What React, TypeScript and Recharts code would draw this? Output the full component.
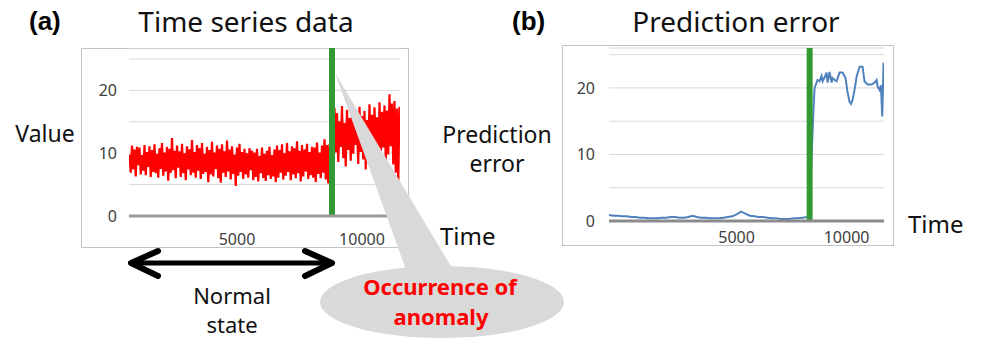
import { LineChart, Line, XAxis, YAxis, CartesianGrid, ReferenceLine } from "recharts"

// (a) time series, sampled every 50 steps from t=700
const seriesStart = 700
const seriesStep = 50
const anomalyAt = 8800

const normalValues = [
  9.8, 6.9, 11.2, 7.4, 10.6, 6.3, 11.0, 8.1, 10.9, 6.6, 9.7, 7.2, 11.3, 6.5, 10.2, 7.8, 11.1, 6.2,
  10.5, 7.0, 11.4, 6.8, 9.9, 6.1, 10.8, 7.5, 11.6, 6.4, 10.1, 7.1, 11.0, 5.6, 10.7, 6.9, 12.4, 7.3,
  10.4, 6.0, 11.2, 7.7, 10.3, 6.2, 11.5, 6.8, 10.0, 5.7, 11.1, 7.4, 10.6, 6.5, 12.1, 6.9, 10.2, 6.1,
  11.3, 7.2, 10.8, 5.9, 11.6, 6.7, 9.9, 7.0, 11.0, 5.4, 10.5, 6.6, 11.8, 6.3, 10.1, 7.5, 11.2, 6.0,
  10.7, 5.3, 11.4, 6.9, 10.3, 6.2, 12.0, 7.1, 10.6, 5.8, 11.1, 6.7, 9.8, 4.8, 10.9, 6.4, 11.5, 7.0,
  10.2, 5.9, 10.7, 6.6, 10.0, 6.1, 10.8, 7.3, 10.4, 5.7, 10.1, 6.2, 10.7, 5.5, 9.6, 6.8, 10.9, 6.0,
  9.9, 5.6, 10.4, 6.5, 11.0, 5.9, 9.7, 6.3, 10.6, 5.4, 11.2, 6.1, 10.5, 6.9, 11.4, 5.8, 10.0, 6.4,
  11.6, 7.0, 10.3, 5.7, 11.1, 6.6, 10.8, 6.0, 11.9, 6.8, 10.4, 5.5, 11.3, 6.3, 10.6, 7.1, 11.5, 5.9,
  10.2, 6.5, 11.0, 6.1, 10.9, 5.4, 11.7, 6.7, 10.1, 6.0, 11.2, 6.9, 12.2, 5.8, 11.3, 5.2, 11.4, 6.4,
]

const anomalyValues = [
  15.8, 9.4, 17.2, 10.1, 16.4, 8.6, 15.1, 11.0, 17.5, 9.2, 14.8,
  7.9, 16.9, 10.5, 15.6, 8.8, 17.0, 9.9, 16.2, 11.3, 14.6, 8.3,
  17.4, 10.2, 15.9, 9.0, 16.7, 7.4, 15.3, 10.8, 17.8, 9.6, 16.1,
  8.5, 17.3, 10.4, 15.7, 7.8, 18.1, 9.3, 16.6, 10.9, 17.6, 8.7,
  16.8, 9.8, 19.4, 11.1, 17.9, 8.2, 18.3, 6.9, 17.1, 5.3, 17.4,
]

// (b) prediction error
const errorStart = -800
const errorStep = 200
const errorAnomalyAt = 8320

const errorNormal = [
  0.9, 0.8, 0.8, 0.7, 0.7, 0.6, 0.6, 0.5, 0.5, 0.4,
  0.4, 0.4, 0.5, 0.5, 0.6, 0.6, 0.5, 0.5, 0.6, 0.8,
  0.6, 0.5, 0.5, 0.4, 0.4, 0.4, 0.5, 0.6, 0.7, 1.0,
  1.4, 1.1, 0.8, 0.7, 0.6, 0.6, 0.5, 0.4, 0.4, 0.3,
  0.3, 0.3, 0.4, 0.4, 0.5, 0.6,
]

const errorLateTimes = [
  8300, 8500, 8545, 8680, 8770, 8860, 8910, 9000, 9090, 9135,
  9225, 9320, 9360, 9450, 9545, 9680, 9815, 9950, 10045, 10135,
  10200, 10270, 10360, 10455, 10590, 10725, 10815, 10955, 11135, 11270,
  11365, 11410, 11500, 11560, 11620, 11680,
]
const errorLateValues = [
  0.7, 17.2, 20.0, 21.2, 21.0, 21.8, 21.0, 21.6, 22.3, 20.8,
  22.4, 20.8, 21.5, 21.2, 21.0, 22.3, 22.3, 21.5, 19.3, 17.9,
  17.6, 18.2, 19.7, 21.7, 23.2, 23.2, 21.0, 20.5, 20.5, 20.8,
  21.2, 20.2, 19.7, 20.4, 15.7, 23.8,
]

const yTicks = [0, 5, 10, 15, 20, 25]
const xTicks = [5000, 10000]

const seriesData = [...normalValues, ...anomalyValues].map((v, i) => ({ t: seriesStart + i * seriesStep, v }))
const errorData = [
  ...errorNormal.map((v, i) => ({ t: errorStart + i * errorStep, v })),
  ...errorLateTimes.map((t, i) => ({ t, v: errorLateValues[i] })),
]

const font = "'Noto Sans', sans-serif"
const tickStyle = { fontSize: 16, fill: "#404040", fontFamily: font }
const showTens = (v: number) => (v % 10 === 0 ? String(v) : "")
const green = "#339933"
const frame = "1.5px solid #c4c4c4"

export default function App() {
  return (
    <div style={{ position: "absolute", left: 0, top: 0, width: 984, height: 339, background: "#fff", fontFamily: font }}>
      <div style={{ position: "absolute", left: 81, top: 48, width: 328, height: 200, border: frame, boxSizing: "border-box" }} />
      <div style={{ position: "absolute", left: 562, top: 45, width: 332, height: 201, border: frame, boxSizing: "border-box" }} />

      <div style={{ position: "absolute", left: 81, top: 48 }}>
        <LineChart width={328} height={215} data={seriesData} margin={{ top: 0, right: 9, bottom: 23, left: 8 }}>
          <CartesianGrid vertical={false} stroke="#d9d9d9" />
          <XAxis
            dataKey="t"
            type="number"
            domain={[680, 11520]}
            ticks={xTicks}
            tickLine={false}
            axisLine={{ stroke: "#999999", strokeWidth: 3 }}
            tick={tickStyle}
            tickMargin={12}
            height={24}
            allowDataOverflow
          />
          <YAxis
            type="number"
            domain={[0, 26.75]}
            ticks={yTicks}
            tickFormatter={showTens}
            axisLine={false}
            tickLine={false}
            tick={tickStyle}
            tickMargin={6}
            width={40}
          />
          <Line dataKey="v" stroke="#ff0000" strokeWidth={2.2} dot={false} isAnimationActive={false} />
          <ReferenceLine x={anomalyAt} stroke={green} strokeWidth={6} />
        </LineChart>
      </div>

      <div style={{ position: "absolute", left: 562, top: 45 }}>
        <LineChart width={332} height={215} data={errorData} margin={{ top: 3, right: 10, bottom: 21, left: 7 }}>
          <CartesianGrid vertical={false} stroke="#d9d9d9" />
          <XAxis
            dataKey="t"
            type="number"
            domain={[-800, 11700]}
            ticks={xTicks}
            tickLine={false}
            axisLine={{ stroke: "#8c8c8c", strokeWidth: 3 }}
            tick={tickStyle}
            tickMargin={5}
            height={18}
            allowDataOverflow
          />
          <YAxis
            type="number"
            domain={[0, 26]}
            ticks={yTicks}
            tickFormatter={showTens}
            axisLine={false}
            tickLine={false}
            tick={tickStyle}
            tickMargin={8}
            width={40}
          />
          <Line dataKey="v" stroke="#4f81bd" strokeWidth={2} dot={false} isAnimationActive={false} />
          <ReferenceLine x={errorAnomalyAt} stroke={green} strokeWidth={6} />
        </LineChart>
      </div>

      <svg width={984} height={339} style={{ position: "absolute", left: 0, top: 0, pointerEvents: "none" }}>
        <text x={29} y={30} fontFamily="'Liberation Sans', Arial, sans-serif" fontWeight="bold" fontSize={26}>(a)</text>
        <text x={512} y={30} fontFamily="'Liberation Sans', Arial, sans-serif" fontWeight="bold" fontSize={26}>(b)</text>
        <text x={246} y={32} textAnchor="middle" fontSize={28} fill="#111">Time series data</text>
        <text x={736} y={32} textAnchor="middle" fontSize={28} fill="#111">Prediction error</text>

        <text x={45} y={142} textAnchor="middle" fontSize={23} fill="#111">Value</text>
        <text x={497} y={143} textAnchor="middle" fontSize={23} fill="#111">Prediction</text>
        <text x={497} y={172} textAnchor="middle" fontSize={23} fill="#111">error</text>
        <text x={440} y={245} fontSize={24} fill="#111">Time</text>
        <text x={908} y={233} fontSize={24} fill="#111">Time</text>

        <line x1={134} y1={263} x2={328} y2={263} stroke="#000" strokeWidth={5} />
        <polyline points="158,251 131,263 158,276" fill="none" stroke="#000" strokeWidth={6} strokeLinecap="round" strokeLinejoin="round" />
        <polyline points="305,251 332,263 305,276" fill="none" stroke="#000" strokeWidth={6} strokeLinecap="round" strokeLinejoin="round" />
        <text x={232} y={304} textAnchor="middle" fontSize={22} fill="#111">Normal</text>
        <text x={232} y={333} textAnchor="middle" fontSize={22} fill="#111">state</text>

        <polygon points="335,73 409,278 458,278" fill="#d9d9d9" />
        <ellipse cx={442} cy={302} rx={122} ry={36} fill="#d9d9d9" />
        <text x={440} y={295} textAnchor="middle" fontSize={22} fontWeight="bold" fill="#ff0000">Occurrence of</text>
        <text x={441} y={325} textAnchor="middle" fontSize={22} fontWeight="bold" fill="#ff0000">anomaly</text>
      </svg>
    </div>
  )
}
